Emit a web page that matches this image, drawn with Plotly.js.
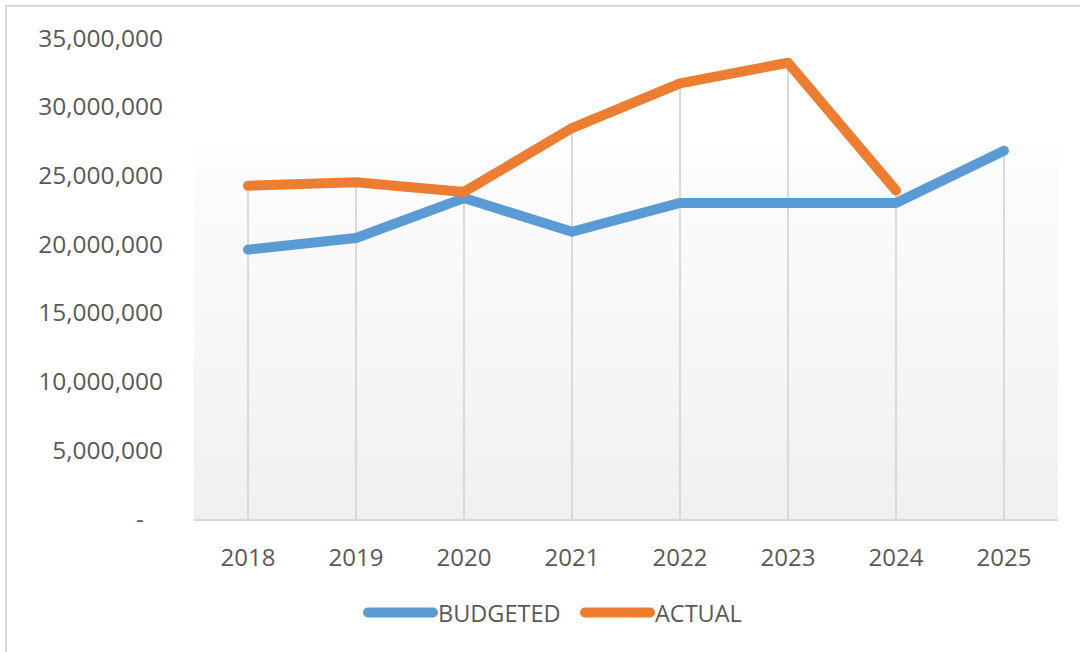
<!DOCTYPE html>
<html>
<head>
<meta charset="utf-8">
<script src="https://cdn.plot.ly/plotly-3.0.1.min.js"></script>
<style>
  html, body { margin: 0; padding: 0; background: #ffffff; }
  #wrap { position: relative; width: 1080px; height: 652px; }
  #chart { width: 1080px; height: 652px; }
  #frame { position: absolute; left: 5px; top: 5px; right: 0; bottom: 0;
           border-top: 2px solid #d9d9d9; border-left: 2px solid #d9d9d9; pointer-events: none; }
  .scatterlayer path.js-line, .legendlines path { stroke-linecap: round; stroke-linejoin: round; }
</style>
</head>
<body>
<div id="wrap"><div id="chart"></div><div id="frame"></div></div>
<script>
const years = ['2018', '2019', '2020', '2021', '2022', '2023', '2024', '2025'];
const budgeted = [19600000, 20450000, 23350000, 20900000, 23000000, 23000000, 23000000, 26800000];
const actual = [24250000, 24500000, 23800000, 28450000, 31700000, 33200000, 23900000, null];
const yTickVals = [0, 5000000, 10000000, 15000000, 20000000, 25000000, 30000000, 35000000];
const yTickText = ['-\u00a0\u00a0\u00a0', '5,000,000', '10,000,000', '15,000,000', '20,000,000', '25,000,000', '30,000,000', '35,000,000'];

const textColor = '#595959';
const fontFamily = '"Open Sans", "Noto Sans", sans-serif';

// drop lines from axis to the highest point of each category
const dropX = [], dropY = [];
years.forEach((yr, i) => {
  const vals = [budgeted[i], actual[i]].filter(v => v !== null);
  dropX.push(yr, yr, null);
  dropY.push(0, Math.max(...vals), null);
});

const traces = [
  { x: dropX, y: dropY, type: 'scatter', mode: 'lines', showlegend: false, hoverinfo: 'skip',
    line: { color: '#d9d9d9', width: 2 } },
  { x: years, y: budgeted, name: 'BUDGETED', type: 'scatter', mode: 'lines',
    line: { color: '#5b9bd5', width: 10 } },
  { x: years, y: actual, name: 'ACTUAL', type: 'scatter', mode: 'lines',
    line: { color: '#ed7d31', width: 10 } }
];

const gradSvg = '<svg xmlns="http://www.w3.org/2000/svg" width="100" height="100" preserveAspectRatio="none">' +
  '<defs><linearGradient id="g" x1="0" y1="0" x2="0" y2="1">' +
  '<stop offset="0" stop-color="#fdfdfd"/><stop offset="1" stop-color="#f0f0f0"/></linearGradient></defs>' +
  '<rect width="100" height="100" fill="url(#g)"/></svg>';
const gradUri = 'data:image/svg+xml;base64,' + btoa(gradSvg);

const layout = {
  width: 1080, height: 652,
  margin: { l: 194, r: 22, t: 38, b: 133 },
  paper_bgcolor: 'rgba(0,0,0,0)',
  plot_bgcolor: 'rgba(0,0,0,0)',
  font: { family: fontFamily, color: textColor, size: 23 },
  showlegend: true,
  legend: {
    orientation: 'h', x: 0.1956, xanchor: 'left', y: -0.195, yanchor: 'middle',
    font: { family: fontFamily, size: 23.5, color: textColor },
    itemwidth: 65, entrywidth: 137, tracegroupgap: 0, traceorder: 'normal'
  },
  xaxis: {
    type: 'category', range: [-0.5, 7.5], showgrid: false, zeroline: false,
    showline: true, linecolor: '#d9d9d9', linewidth: 2,
    ticks: '', ticklabelstandoff: 16,
    tickfont: { family: fontFamily, size: 24, color: textColor }, fixedrange: true
  },
  yaxis: {
    range: [0, 35000000], showgrid: false, zeroline: false, showline: false,
    tickvals: yTickVals, ticktext: yTickText, ticks: '', ticklabelstandoff: 30,
    tickfont: { family: fontFamily, size: 24.5, color: textColor }, fixedrange: true
  },
  images: [{
    source: gradUri, xref: 'paper', yref: 'paper', x: 0, y: 0.778, sizex: 1, sizey: 0.778,
    xanchor: 'left', yanchor: 'top', sizing: 'stretch', layer: 'below'
  }]
};

Plotly.newPlot('chart', traces, layout, { displayModeBar: false, staticPlot: true });
</script>
</body>
</html>
